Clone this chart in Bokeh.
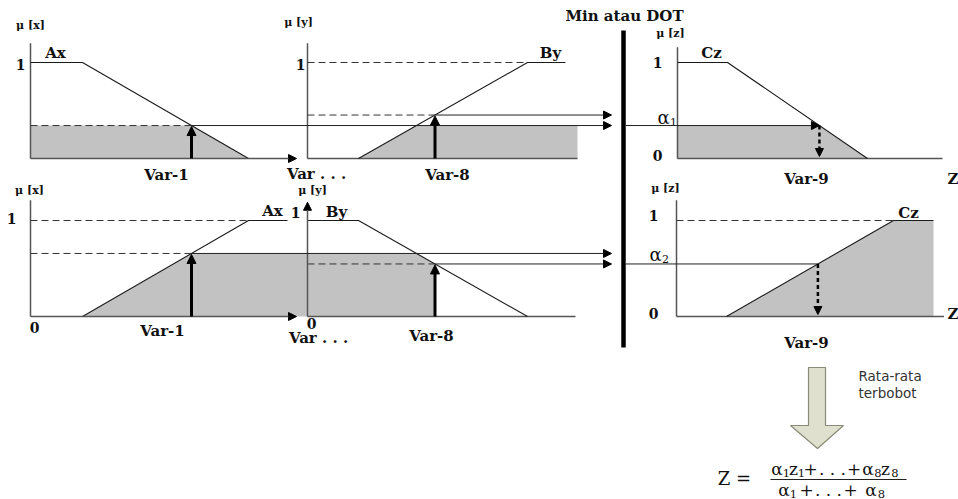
import numpy as np
from bokeh.plotting import figure
from bokeh.models import Range1d, Arrow, NormalHead, ColumnDataSource
from bokeh.core.properties import value
from bokeh.embed import file_html
from bokeh.resources import INLINE

# ---------------- data (membership functions, inputs) ----------------
ax1_x = [0, 20.8, 87.2]
ax1_mu = [1, 1, 0]
by1_x = [20.4, 88.0, 103.2]
by1_mu = [0, 1, 1]
cz1_x = [0, 20.0, 76.0]
cz1_mu = [1, 1, 0]
ax2_x = [20.8, 87.2, 102.8]
ax2_mu = [0, 1, 1]
by2_x = [0, 20.4, 88.0]
by2_mu = [1, 1, 0]
cz2_x = [20.0, 86.8, 102.8]
cz2_mu = [0, 1, 1]
var1_input = 64.4
var8_input = 51.0

# ---------------- layout (panel origins in page pixels) ----------------
SCALE = 2.5      # px per variable unit
MU_H = 96.0      # px for membership 1
PANEL = {"p1": (30, 158), "p2": (307, 158), "p3": (677, 158),
         "p4": (30, 316), "p5": (307, 316), "p6": (676, 316)}
AXLEN = {"p1": 106.4, "p2": 108.0, "p3": 106.0, "p4": 106.4, "p5": 107.2, "p6": 107.0}
AXTOP = {"p1": 1.2, "p2": 1.2, "p3": 1.16, "p4": 1.21, "p5": 1.19, "p6": 1.21}


def X(pn, u):
    return PANEL[pn][0] + np.asarray(u, dtype=float) * SCALE


def Y(pn, m):
    return PANEL[pn][1] - np.asarray(m, dtype=float) * MU_H


# derived inference values
a1 = float(np.interp(var1_input, ax1_x, ax1_mu))
b1 = float(np.interp(var8_input, by1_x, by1_mu))
a2 = float(np.interp(var1_input, ax2_x, ax2_mu))
b2 = float(np.interp(var8_input, by2_x, by2_mu))
alpha1 = min(a1, b1)
alpha2 = min(a2, b2)
z1 = float(np.interp(alpha1, [cz1_mu[2], cz1_mu[1]], [cz1_x[2], cz1_x[1]]))
z2 = float(np.interp(alpha2, [cz2_mu[0], cz2_mu[1]], [cz2_x[0], cz2_x[1]]))

p = figure(width=958, height=499, x_range=Range1d(0, 958), y_range=Range1d(499, 0),
           output_backend="svg", toolbar_location=None, min_border=0,
           x_axis_location=None, y_axis_location=None)
p.grid.visible = False
p.outline_line_color = None
p.background_fill_color = "white"

GRAY = "#c2c2c2"

# ---------------- gray fills ----------------
xc = float(np.interp(alpha1, [ax1_mu[2], ax1_mu[1]], [ax1_x[2], ax1_x[1]]))
p.patch(list(X("p1", [0, 0, xc, ax1_x[2]])), list(Y("p1", [0, alpha1, alpha1, 0])),
        fill_color=GRAY, line_color=None)
xc2 = float(np.interp(alpha1, [by1_mu[0], by1_mu[1]], [by1_x[0], by1_x[1]]))
p.patch(list(X("p2", [by1_x[0], xc2, AXLEN["p2"], AXLEN["p2"]])), list(Y("p2", [0, alpha1, alpha1, 0])),
        fill_color=GRAY, line_color=None)
p.patch(list(X("p3", [0, 0, z1, cz1_x[2]])), list(Y("p3", [0, alpha1, alpha1, 0])),
        fill_color=GRAY, line_color=None)
xc5 = float(np.interp(a2, [by2_mu[2], by2_mu[1]], [by2_x[2], by2_x[1]]))
gx = list(X("p4", [ax2_x[0], var1_input])) + list(X("p5", [xc5, var8_input, var8_input]))
gy = list(Y("p4", [0, a2])) + list(Y("p5", [a2, b2, 0]))
p.patch(gx, gy, fill_color=GRAY, line_color=None)
p.patch(list(X("p6", cz2_x + [cz2_x[-1]])), list(Y("p6", cz2_mu + [0])),
        fill_color=GRAY, line_color=None)

AXC = "#555555"
# ---------------- axes ----------------
for pn in PANEL:
    ox, base = PANEL[pn]
    if pn != "p5":
        p.line([ox, ox], [base, float(Y(pn, AXTOP[pn]))], line_color=AXC, line_width=1.5)
    if pn not in ("p1", "p4"):
        p.line([ox, float(X(pn, AXLEN[pn]))], [base, base], line_color=AXC, line_width=1.5)

for pn in ("p1", "p4"):
    ox, base = PANEL[pn]
    p.add_layout(Arrow(end=NormalHead(size=8, line_color="black", fill_color="black"), line_color=AXC,
                       line_width=1.5, x_start=ox, y_start=base,
                       x_end=float(X(pn, AXLEN[pn])), y_end=base))
ox5, base5 = PANEL["p5"]
p.add_layout(Arrow(end=NormalHead(size=8, line_color="black", fill_color="black"), line_color=AXC,
                   line_width=1.5, x_start=ox5, y_start=base5, x_end=ox5,
                   y_end=float(Y("p5", AXTOP["p5"]))))

# ---------------- membership functions ----------------
for pn, xs, ms in (("p1", ax1_x, ax1_mu), ("p2", by1_x, by1_mu), ("p3", cz1_x, cz1_mu),
                   ("p4", ax2_x, ax2_mu), ("p5", by2_x, by2_mu), ("p6", cz2_x, cz2_mu)):
    p.line(list(X(pn, xs)), list(Y(pn, ms)), line_color="#1a1a1a", line_width=1.1)

DASH = "7 4"
for pn, x_end in (("p2", by1_x[1]), ("p4", ax2_x[1]), ("p6", cz2_x[1])):
    p.line([PANEL[pn][0], float(X(pn, x_end))], [float(Y(pn, 1))] * 2,
           line_color="#333333", line_width=1, line_dash=DASH)
for pn, u, m in (("p1", var1_input, a1), ("p2", var8_input, b1),
                 ("p4", var1_input, a2), ("p5", var8_input, b2)):
    p.line([PANEL[pn][0], float(X(pn, u))], [float(Y(pn, m))] * 2,
           line_color="#333333", line_width=1, line_dash=DASH)

# horizontal arrows to the Min bar
ARROW_TIP = 611
for pn, u, m in (("p1", var1_input, a1), ("p2", var8_input, b1),
                 ("p4", var1_input, a2), ("p5", var8_input, b2)):
    yy = float(Y(pn, m))
    p.add_layout(Arrow(end=NormalHead(size=8, line_color="black", fill_color="black"),
                       line_color="#222222", line_width=1,
                       x_start=float(X(pn, u)), y_start=yy, x_end=ARROW_TIP, y_end=yy))

# input arrows (thick, upward)
for pn, u, m in (("p1", var1_input, a1), ("p2", var8_input, b1),
                 ("p4", var1_input, a2), ("p5", var8_input, b2)):
    xx = float(X(pn, u))
    p.add_layout(Arrow(end=NormalHead(size=9, line_color="black", fill_color="black"),
                       line_color="black", line_width=3,
                       x_start=xx, y_start=PANEL[pn][1], x_end=xx, y_end=float(Y(pn, m)) + 1))

# Min bar
BAR_X = 623
p.segment(x0=[BAR_X], y0=[30], x1=[BAR_X], y1=[347], line_color="black", line_width=4.5)

# alpha lines into output panels
ya1 = float(Y("p3", alpha1))
p.add_layout(Arrow(end=NormalHead(size=8, line_color="black", fill_color="black"),
                   line_color="#222222", line_width=1,
                   x_start=BAR_X + 2, y_start=ya1, x_end=float(X("p3", z1)), y_end=ya1))
ya2 = float(Y("p6", alpha2))
p.line([BAR_X + 2, float(X("p6", z2))], [ya2, ya2], line_color="#222222", line_width=1)

# dashed down arrows (defuzzified z)
for pn, zz, aa in (("p3", z1, alpha1), ("p6", z2, alpha2)):
    xx = float(X(pn, zz))
    p.add_layout(Arrow(end=NormalHead(size=8, line_color="black", fill_color="black"),
                       line_color="black", line_width=2.5, line_dash="4 3",
                       x_start=xx, y_start=float(Y(pn, aa)), x_end=xx, y_end=PANEL[pn][1] - 2))

# big arrow (weighted average)
bx = [808, 825, 825, 843, 817, 790, 808]
by_ = [367, 367, 425, 425, 448, 425, 425]
p.patch(bx, by_, fill_color="#e0e0cf", line_color="#8a8a78", line_width=1.2)


def put(items, size, font="DejaVu Serif", style="bold", align="center", color="#111111"):
    src = ColumnDataSource(dict(x=[i[0] for i in items], y=[i[1] for i in items],
                                t=[i[2] for i in items]))
    p.text(x="x", y="y", text="t", source=src, text_font=value(font), text_font_size=size,
           text_font_style=style, text_align=align, text_baseline="middle", text_color=color)


put([(30, 25, "μ [x]"), (298, 22, "μ [y]"), (670, 33, "μ [z]"),
     (29, 190, "μ [x]"), (312, 190, "μ [y]"), (665, 188, "μ [z]")], "11px")
put([(55, 52, "Ax"), (550, 52, "By"), (711, 52, "Cz"),
     (272, 210, "Ax"), (336, 211, "By"), (908, 212, "Cz")], "15px")
put([(20, 64, "1"), (300, 64, "1"), (657, 62, "1"), (657, 155, "0"),
     (11, 218, "1"), (34, 327, "0"), (295, 212, "1"), (311, 323, "0"),
     (653, 215, "1"), (653, 313, "0")], "14px")
put([(166, 174, "Var-1"), (316, 173, "Var . . ."), (447, 174, "Var-8"), (806, 178, "Var-9"),
     (162, 330, "Var-1"), (318, 337, "Var . . ."), (431, 335, "Var-8"), (806, 342, "Var-9")], "15px")
put([(947, 178, "Z"), (947, 313, "Z")], "15px", align="left")
put([(624, 15, "Min atau DOT")], "15px")
put([(663, 117, "α"), (655, 254, "α")], "18px", style="normal")
put([(673, 121, "1"), (665, 258, "2")], "11px", style="normal")
put([(858, 375, "Rata-rata"), (858, 392, "terbobot")], "13.5px", font="DejaVu Sans",
    style="normal", align="left", color="#333333")
put([(734, 478, "Z =")], "18px", style="normal")

# weighted-average formula, built from pieces
NUM_Y, DEN_Y = 468, 489
put([(776.5, NUM_Y, "α"), (793, NUM_Y, "z"), (810, NUM_Y, "+"), (832, NUM_Y, ". . ."),
     (853.5, NUM_Y, "+"), (867.5, NUM_Y, "α"), (885, NUM_Y, "z"),
     (783.5, DEN_Y, "α"), (806, DEN_Y, "+"), (828, DEN_Y, ". . ."), (850, DEN_Y, "+"),
     (870.5, DEN_Y, "α")], "17px", style="normal")
put([(786, NUM_Y + 4, "1"), (801, NUM_Y + 4, "1"), (877.5, NUM_Y + 4, "8"), (894.5, NUM_Y + 4, "8"),
     (793, DEN_Y + 4, "1"), (881, DEN_Y + 4, "8")], "11.5px", style="normal")
p.line([770, 906], [479, 479], line_color="#222222", line_width=1)

open("out.html", "w").write(file_html(p, INLINE))
